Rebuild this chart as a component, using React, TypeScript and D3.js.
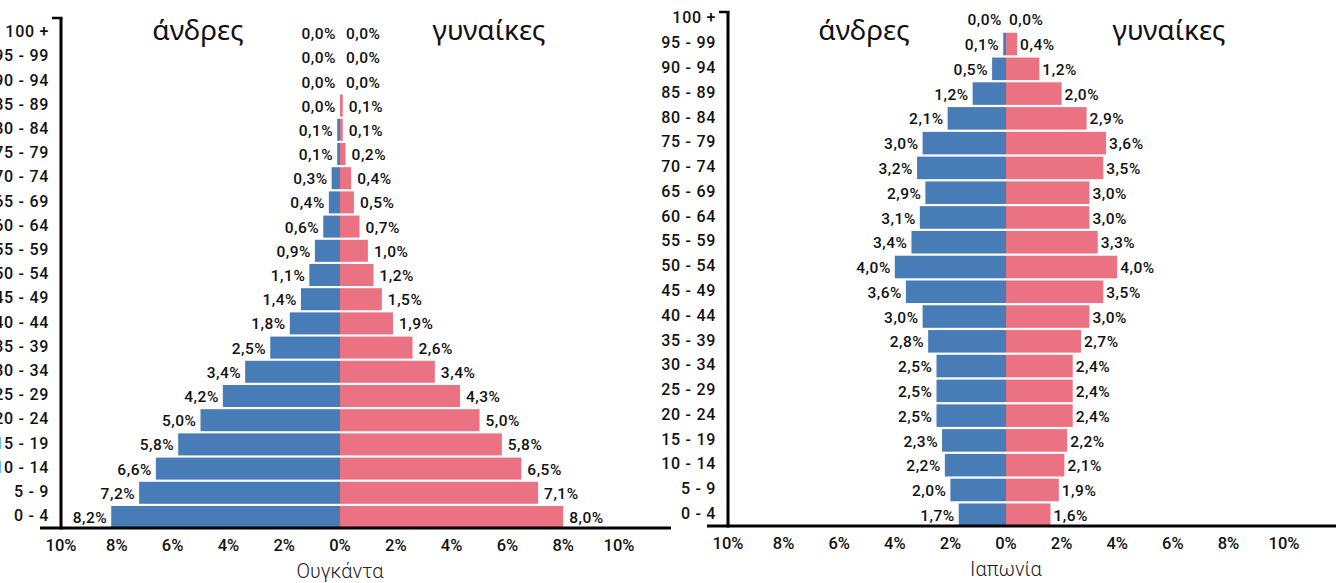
import React from 'react';
import * as d3 from 'd3';

const ageGroups = [
  '0 - 4', '5 - 9', '10 - 14', '15 - 19', '20 - 24', '25 - 29', '30 - 34',
  '35 - 39', '40 - 44', '45 - 49', '50 - 54', '55 - 59', '60 - 64', '65 - 69',
  '70 - 74', '75 - 79', '80 - 84', '85 - 89', '90 - 94', '95 - 99', '100 +',
];

const ugandaMale = [8.2, 7.2, 6.6, 5.8, 5.0, 4.2, 3.4, 2.5, 1.8, 1.4, 1.1, 0.9, 0.6, 0.4, 0.3, 0.1, 0.1, 0.0, 0.0, 0.0, 0.0];
const ugandaFemale = [8.0, 7.1, 6.5, 5.8, 5.0, 4.3, 3.4, 2.6, 1.9, 1.5, 1.2, 1.0, 0.7, 0.5, 0.4, 0.2, 0.1, 0.1, 0.0, 0.0, 0.0];

const japanMale = [1.7, 2.0, 2.2, 2.3, 2.5, 2.5, 2.5, 2.8, 3.0, 3.6, 4.0, 3.4, 3.1, 2.9, 3.2, 3.0, 2.1, 1.2, 0.5, 0.1, 0.0];
const japanFemale = [1.6, 1.9, 2.1, 2.2, 2.4, 2.4, 2.4, 2.7, 3.0, 3.5, 4.0, 3.3, 3.0, 3.0, 3.5, 3.6, 2.9, 2.0, 1.2, 0.4, 0.0];

const xTicks = [-10, -8, -6, -4, -2, 0, 2, 4, 6, 8, 10];

const BLUE = '#487cb6';
const PINK = '#ea7282';
const FONT = "Roboto, 'DejaVu Sans', sans-serif";

const fmt = (v: number) => v.toFixed(1).replace('.', ',') + '%';

interface PanelProps {
  name: string;
  male: number[];
  female: number[];
  xRange: [number, number];
  yRange: [number, number];
  topTickY: number;
  menX: number;
  womenX: number;
  labelGap: number;
}

const Panel: React.FC<PanelProps> = ({ name, male, female, xRange, yRange, topTickY, menX, womenX, labelGap }) => {
  const x = d3.scaleLinear().domain([-10, 10]).range(xRange);
  const y = d3.scaleBand<string>().domain(ageGroups).range(yRange).paddingInner(0.09);
  const x0 = x(0);
  const axisX = x(-10);
  const baseY = yRange[0];

  return (
    <g fontFamily={FONT}>
      {ageGroups.map((g, i) => {
        const cy = (y(g) as number) + y.bandwidth() / 2;
        return (
          <g key={g}>
            <rect x={x(-male[i])} y={y(g)} width={x0 - x(-male[i])} height={y.bandwidth()} fill={BLUE} />
            <rect x={x0} y={y(g)} width={x(female[i]) - x0} height={y.bandwidth()} fill={PINK} />
            <text x={x(-male[i]) - 4} y={cy + 2} textAnchor="end" dominantBaseline="middle"
              fontSize={15.5} fontWeight={500} letterSpacing={0.5} fill="#111">
              {fmt(male[i])}
            </text>
            <text x={x(female[i]) + labelGap} y={cy + 2} textAnchor="start" dominantBaseline="middle"
              fontSize={15.5} fontWeight={500} letterSpacing={0.5} fill="#111">
              {fmt(female[i])}
            </text>
            <text x={axisX - 12} y={cy} textAnchor="end" dominantBaseline="middle"
              fontSize={16} fontWeight={500} letterSpacing={0.7} fill="#111">
              {g}
            </text>
          </g>
        );
      })}
      {/* axes */}
      <line x1={axisX} x2={axisX} y1={topTickY} y2={baseY + 1.5} stroke="#000" strokeWidth={3} />
      <line x1={axisX - 9} x2={axisX + 1.5} y1={topTickY} y2={topTickY} stroke="#000" strokeWidth={2.5} />
      <line x1={axisX - 21} x2={x(10) + 52} y1={baseY} y2={baseY} stroke="#000" strokeWidth={3} />
      {xTicks.map((t) => (
        <text key={t} x={x(t)} y={baseY + 19} textAnchor="middle" dominantBaseline="middle"
          fontSize={16.5} fontWeight={500} fill="#111">
          {Math.abs(t)}%
        </text>
      ))}
      <text x={x0} y={baseY + 45} textAnchor="middle" dominantBaseline="middle" fontSize={20}
        fontWeight={300} fill="#222">
        {name}
      </text>
      <text x={menX} y={32} textAnchor="middle" dominantBaseline="middle" fontSize={28}
        fontFamily="'Noto Sans', sans-serif" fill="#111">άνδρες</text>
      <text x={womenX} y={32} textAnchor="middle" dominantBaseline="middle" fontSize={28}
        fontFamily="'Noto Sans', sans-serif" fill="#111">γυναίκες</text>
    </g>
  );
};

export default function App() {
  return (
    <svg width={1340} height={583} style={{ position: 'absolute', left: 0, top: 0, background: '#fff' }}>
      <Panel name="Ουγκάντα" male={ugandaMale} female={ugandaFemale} xRange={[61, 619]} yRange={[528, 22]}
        topTickY={18} menX={198} womenX={489} labelGap={6} />
      <Panel name="Ιαπωνία" male={japanMale} female={japanFemale} xRange={[728, 1284]} yRange={[526, 8]}
        topTickY={12} menX={864} womenX={1169} labelGap={3} />
    </svg>
  );
}
